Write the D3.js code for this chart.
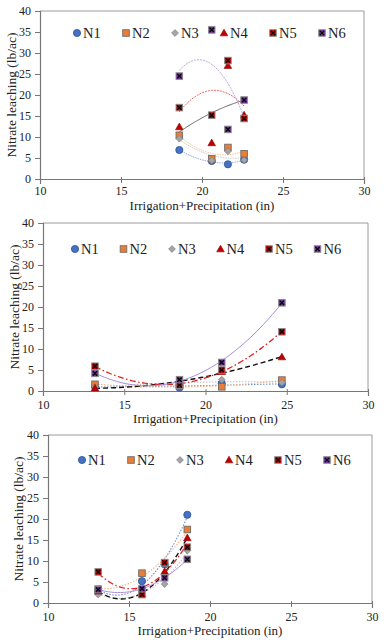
<!DOCTYPE html>
<html><head><meta charset="utf-8">
<script src="https://cdn.jsdelivr.net/npm/d3@7"></script>
<style>
html,body{margin:0;padding:0;background:#fff;}
svg{display:block;}
</style></head>
<body>
<svg id="chart" width="391" height="640"></svg>
<script>
// ---------- data ----------
const seriesNames = ["N1", "N2", "N3", "N4", "N5", "N6"];
const xTicks = [10, 15, 20, 25, 30];
const yTicks = [0, 5, 10, 15, 20, 25, 30, 35, 40];
const xTitle = "Irrigation+Precipitation (in)";
const yTitle = "Nitrate leaching (lb/ac)";

// panel 1
const xs1 = [18.6, 20.6, 21.6, 22.6];
const p1N1 = [6.9, 4.3, 3.5, 4.6];
const p1N2 = [10.4, 4.8, 7.5, 6.0];
const p1N3 = [9.6, 4.4, 6.6, 4.5];
const p1N4 = [12.4, 8.6, 27.0, 15.2];
const p1N5 = [17.0, 15.2, 28.2, 14.4];
const p1N6 = [24.5, 35.5, 11.8, 18.8];

// panel 2
const xs2 = [13.2, 18.4, 21.0, 24.7];
const p2N1 = [1.0, 0.8, 1.8, 1.6];
const p2N2 = [1.6, 1.2, 1.0, 2.6];
const p2N3 = [1.0, 1.5, 2.7, 2.0];
const p2N4 = [0.7, 2.0, 4.6, 8.1];
const p2N5 = [5.9, 1.4, 5.0, 14.1];
const p2N6 = [4.2, 2.7, 6.8, 21.0];

// panel 3
const xs3 = [13.1, 15.8, 17.2, 18.6];
const p3N1 = [3.0, 5.2, 9.2, 21.0];
const p3N2 = [3.3, 7.1, 9.6, 17.5];
const p3N3 = [2.0, 3.4, 4.5, 12.5];
const p3N4 = [2.8, 2.2, 7.5, 15.5];
const p3N5 = [7.4, 2.0, 9.6, 13.3];
const p3N6 = [3.2, 3.4, 6.0, 10.4];

// ---------- styles ----------
const FONT = "'Liberation Serif', 'Times New Roman', 'DejaVu Serif', serif";
const markerFill = ["#4472C4", "#ED7D31", "#A5A5A5", "#C00000", "#C00000", "#7030A0"];
const markerStroke = ["#2F528F", "#7a5a40", "#7F7F7F", "#8B0000", "#7a1010", "#3d1a5c"];
const markerShape = ["circle", "square", "diamond", "triangle", "xsquare", "xsquare"];
const trendColor = ["#6f8fd6", "#F4B183", "#BFBFBF", "#111111", "#E52020", "#A98BDB"];
const trendColorP1 = ["#8aa4e0", "#F6C19C", "#C8C8C8", "#666666", "#EE5A5A", "#B9A0E4"];
const trendDash = ["1.5,1.5", "1.5,1.5", "1.5,1.5", "5,3", "6,2.5,1.5,2.5", "none"];
const trendDashP1 = ["1.5,1", "1.5,1", "1.5,1", "none", "2,1", "2,1"];
const trendWidth = [1.1, 1.1, 1.1, 1.4, 1.3, 1.0];

const panels = [
  {xs: xs1, vals: [p1N1, p1N2, p1N3, p1N4, p1N5, p1N6], left: 40, right: 364, top: 11, bottom: 179,
   legX: 77, legStep: 49, legY: 33, yTitleX: 11, tickLabY: 191, titleY: 210, soft: true},
  {xs: xs2, vals: [p2N1, p2N2, p2N3, p2N4, p2N5, p2N6], left: 43, right: 368, top: 223, bottom: 391,
   legX: 75, legStep: 48.5, legY: 249, yTitleX: 14, tickLabY: 405, titleY: 423, soft: false},
  {xs: xs3, vals: [p3N1, p3N2, p3N3, p3N4, p3N5, p3N6], left: 48, right: 372, top: 435, bottom: 603,
   legX: 82, legStep: 49, legY: 460, yTitleX: 18, tickLabY: 617, titleY: 635, soft: false}
];

const svg = d3.select("#chart");

function quadFit(xs, ys) {
  // least squares y = a + b t + c t^2, t = x - mean
  const n = xs.length, mx = d3.mean(xs);
  const t = xs.map(x => x - mx);
  let S = [0,0,0,0,0], T = [0,0,0];
  for (let i = 0; i < n; i++) {
    for (let k = 0; k < 5; k++) S[k] += Math.pow(t[i], k);
    for (let k = 0; k < 3; k++) T[k] += ys[i] * Math.pow(t[i], k);
  }
  const M = [[S[0],S[1],S[2],T[0]],[S[1],S[2],S[3],T[1]],[S[2],S[3],S[4],T[2]]];
  for (let i = 0; i < 3; i++) {
    let p = i;
    for (let r = i+1; r < 3; r++) if (Math.abs(M[r][i]) > Math.abs(M[p][i])) p = r;
    [M[i], M[p]] = [M[p], M[i]];
    for (let r = 0; r < 3; r++) if (r !== i) {
      const f = M[r][i] / M[i][i];
      for (let c = i; c < 4; c++) M[r][c] -= f * M[i][c];
    }
  }
  const a = M[0][3]/M[0][0], b = M[1][3]/M[1][1], c = M[2][3]/M[2][2];
  return x => { const u = x - mx; return a + b*u + c*u*u; };
}

function drawMarker(g, shape, x, y, i) {
  const fill = markerFill[i], stroke = markerStroke[i];
  if (shape === "circle") {
    g.append("circle").attr("cx", x).attr("cy", y).attr("r", 3.6)
      .attr("fill", fill).attr("stroke", stroke).attr("stroke-width", 0.8);
  } else if (shape === "square" || shape === "xsquare") {
    const s = 6.6;
    g.append("rect").attr("x", x - s/2).attr("y", y - s/2).attr("width", s).attr("height", s)
      .attr("fill", fill).attr("stroke", shape === "square" ? "#6d6d6d" : "#8a8a8a").attr("stroke-width", 0.9);
    if (shape === "xsquare") {
      const d = 2.2;
      g.append("path").attr("d", `M${x-d},${y-d}L${x+d},${y+d}M${x-d},${y+d}L${x+d},${y-d}`)
        .attr("stroke", "#000").attr("stroke-width", 1.2);
    }
  } else if (shape === "diamond") {
    const r = 3.4;
    g.append("path").attr("d", `M${x},${y-r}L${x+r},${y}L${x},${y+r}L${x-r},${y}Z`)
      .attr("fill", fill).attr("stroke", stroke).attr("stroke-width", 0.7);
  } else if (shape === "triangle") {
    const r = 3.8;
    g.append("path").attr("d", `M${x},${y-r}L${x+r},${y+r*0.75}L${x-r},${y+r*0.75}Z`)
      .attr("fill", fill).attr("stroke", stroke).attr("stroke-width", 0.6);
  }
}

panels.forEach(P => {
  const x = d3.scaleLinear().domain([10, 30]).range([P.left, P.right]);
  const y = d3.scaleLinear().domain([0, 40]).range([P.bottom, P.top]);
  const g = svg.append("g");

  // frame (top & right)
  g.append("path").attr("d", `M${P.left},${P.top}H${P.right}V${P.bottom}`)
    .attr("fill", "none").attr("stroke", "#9a9a9a").attr("stroke-width", 1);

  // axes
  const ya = d3.axisLeft(y).tickValues(yTicks).tickSize(5).tickPadding(4).tickFormat(d3.format("d"));
  const yg = g.append("g").attr("transform", `translate(${P.left},0)`).call(ya);
  const xa = d3.axisBottom(x).tickValues(xTicks).tickSize(5).tickPadding(0).tickFormat(d3.format("d"));
  const xg = g.append("g").attr("transform", `translate(0,${P.bottom})`).call(xa);
  [yg, xg].forEach(a => {
    a.attr("font-family", FONT);
    a.select(".domain").attr("stroke", "#777").attr("stroke-width", 1.2);
    a.selectAll(".tick line").attr("stroke", "#777");
    a.selectAll("text").attr("font-size", 12).attr("fill", "#222").attr("font-family", FONT);
  });
  xg.selectAll(".tick text").attr("y", P.tickLabY - P.bottom).attr("dy", "0.32em");
  xg.selectAll(".tick line").attr("y1", -2).attr("y2", 4);

  // titles
  g.append("text").attr("x", (P.left + P.right) / 2).attr("y", P.titleY)
    .attr("text-anchor", "middle").attr("font-size", 13).attr("font-family", FONT).attr("fill", "#222").text(xTitle);
  g.append("text").attr("transform", `translate(${P.yTitleX},${(P.top + P.bottom) / 2}) rotate(-90)`)
    .attr("text-anchor", "middle").attr("dy", "0.35em").attr("font-size", 13.5).attr("font-family", FONT)
    .attr("fill", "#222").text(yTitle);

  // legend
  seriesNames.forEach((name, i) => {
    const lx = P.legX + i * P.legStep;
    drawMarker(g, markerShape[i], lx, P.legY, i);
    g.append("text").attr("x", lx + 6).attr("y", P.legY).attr("dy", "0.36em")
      .attr("font-size", 14.5).attr("font-family", FONT).attr("fill", "#222").text(name);
  });

  // trendlines
  const lineGen = d3.line().x(d => x(d[0])).y(d => y(d[1])).curve(d3.curveLinear);
  P.vals.forEach((vals, i) => {
    const f = quadFit(P.xs, vals);
    const [x0, x1] = d3.extent(P.xs);
    const pts = d3.range(0, 61).map(k => { const xv = x0 + (x1 - x0) * k / 60; return [xv, f(xv)]; });
    g.append("path").attr("d", lineGen(pts)).attr("fill", "none")
      .attr("stroke", P.soft ? trendColorP1[i] : trendColor[i])
      .attr("stroke-width", P.soft ? 1.0 : trendWidth[i])
      .attr("stroke-dasharray", P.soft ? trendDashP1[i] : trendDash[i]);
  });

  // markers
  P.vals.forEach((vals, i) => {
    vals.forEach((v, j) => drawMarker(g, markerShape[i], x(P.xs[j]), y(v), i));
  });
});
</script>
</body></html>
